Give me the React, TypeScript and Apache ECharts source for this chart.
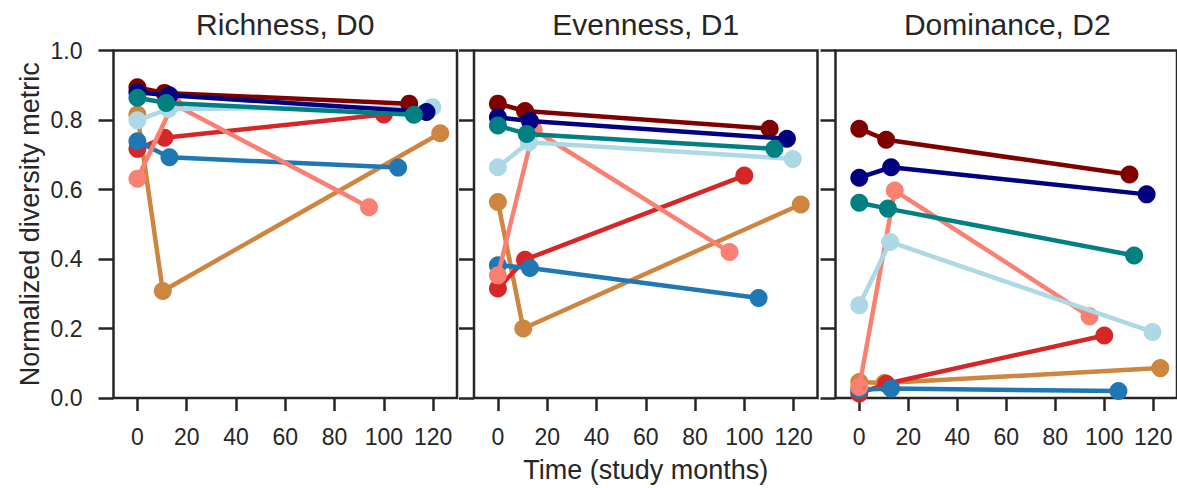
import React, { useEffect, useRef } from "react";
import * as echarts from "echarts";

const panelTitles = ["Richness, D0", "Evenness, D1", "Dominance, D2"];
const xTicks = [0, 20, 40, 60, 80, 100, 120];

const seriesNames = ["peru", "red", "blue", "salmon", "lightblue", "darkred", "navy", "teal"];
const seriesColors = ["#cd853f", "#d62728", "#1f77b4", "#fa8072", "#add8e6", "#800000", "#000080", "#008080"];

// study months per series
const timePeru = [0, 10.3, 122.9];
const timeRed = [0, 11, 100];
const timeBlue = [0, 13, 105.8];
const timeSalmon = [0, 14.5, 94];
const timeLightblue = [0, 12.6, 119.7];
const timeDarkred = [0, 11, 110.3];
const timeNavy = [0, 13, 117.3];
const timeTeal = [0, 11.7, 112.2];
const times = [timePeru, timeRed, timeBlue, timeSalmon, timeLightblue, timeDarkred, timeNavy, timeTeal];

// D0 richness
const d0Peru = [0.816, 0.308, 0.762];
const d0Red = [0.717, 0.749, 0.816];
const d0Blue = [0.739, 0.693, 0.663];
const d0Salmon = [0.631, 0.847, 0.549];
const d0Lightblue = [0.799, 0.832, 0.837];
const d0Darkred = [0.894, 0.878, 0.847];
const d0Navy = [0.88, 0.871, 0.823];
const d0Teal = [0.864, 0.849, 0.815];

// D1 evenness
const d1Peru = [0.564, 0.2, 0.557];
const d1Red = [0.315, 0.398, 0.64];
const d1Blue = [0.382, 0.374, 0.288];
const d1Salmon = [0.353, 0.772, 0.42];
const d1Lightblue = [0.664, 0.736, 0.688];
const d1Darkred = [0.847, 0.826, 0.775];
const d1Navy = [0.808, 0.797, 0.746];
const d1Teal = [0.784, 0.76, 0.717];

// D2 dominance
const d2Peru = [0.046, 0.043, 0.086];
const d2Red = [0.013, 0.041, 0.18];
const d2Blue = [0.024, 0.027, 0.02];
const d2Salmon = [0.032, 0.597, 0.235];
const d2Lightblue = [0.267, 0.449, 0.19];
const d2Darkred = [0.775, 0.743, 0.643];
const d2Navy = [0.634, 0.664, 0.586];
const d2Teal = [0.562, 0.545, 0.41];

const panelValues = [
  [d0Peru, d0Red, d0Blue, d0Salmon, d0Lightblue, d0Darkred, d0Navy, d0Teal],
  [d1Peru, d1Red, d1Blue, d1Salmon, d1Lightblue, d1Darkred, d1Navy, d1Teal],
  [d2Peru, d2Red, d2Blue, d2Salmon, d2Lightblue, d2Darkred, d2Navy, d2Teal],
];

const INK = "#262626";
const FONT = "Liberation Sans, Arial, sans-serif";

export default function App() {
  const ref = useRef<HTMLDivElement>(null);
  useEffect(() => {
    if (!ref.current) return;
    const chart = echarts.init(ref.current, null, { renderer: "svg" });
    const lefts = [113.5, 474, 835.5];
    const width = 343.5;
    const top = 50.5;
    const height = 347.5;

    const grids = lefts.map((l) => ({
      left: l,
      top,
      width,
      height,
      show: true,
      borderColor: INK,
      borderWidth: 2.5,
      backgroundColor: "transparent",
      containLabel: false,
    }));

    const xAxes = lefts.map((_, i) => ({
      type: "value",
      gridIndex: i,
      min: -9.7,
      max: 129.7,
      splitLine: { show: false },
      axisLine: { show: false, onZero: false },
      axisTick: {
        show: true,
        inside: false,
        length: 13,
        lineStyle: { color: INK, width: 2.5 },
        customValues: xTicks,
      },
      axisLabel: {
        show: true,
        margin: 27,
        color: INK,
        fontSize: 23,
        fontFamily: FONT,
        customValues: xTicks,
      },
    }));

    const yAxes = lefts.map((_, i) => ({
      type: "value",
      gridIndex: i,
      min: 0,
      max: 1,
      interval: 0.2,
      splitLine: { show: false },
      axisLine: { show: false, onZero: false },
      axisTick: {
        show: true,
        inside: false,
        length: 15,
        lineStyle: { color: INK, width: 2.5 },
      },
      axisLabel: {
        show: i === 0,
        margin: 31,
        color: INK,
        fontSize: 23,
        fontFamily: FONT,
        formatter: (v: number) => v.toFixed(1),
      },
    }));

    const series: any[] = [];
    panelValues.forEach((vals, p) => {
      vals.forEach((arr, s) => {
        series.push({
          type: "line",
          name: seriesNames[s] + p,
          xAxisIndex: p,
          yAxisIndex: p,
          data: arr.map((v, k) => [times[s][k], v]),
          symbol: "circle",
          symbolSize: 18,
          showSymbol: true,
          silent: true,
          clip: false,
          color: seriesColors[s],
          itemStyle: { color: seriesColors[s] },
          lineStyle: { color: seriesColors[s], width: 4.5 },
          emphasis: { disabled: true },
          z: 2 + s * 0.01,
        });
      });
    });

    const graphic: any[] = panelTitles.map((t, i) => ({
      type: "text",
      x: lefts[i] + width / 2,
      y: 24,
      style: {
        text: t,
        fill: INK,
        font: `30px ${FONT}`,
        textAlign: "center",
        textVerticalAlign: "middle",
      },
    }));
    graphic.push({
      type: "text",
      x: lefts[1] + width / 2,
      y: 470,
      style: {
        text: "Time (study months)",
        fill: INK,
        font: `27px ${FONT}`,
        textAlign: "center",
        textVerticalAlign: "middle",
      },
    });
    graphic.push({
      type: "text",
      x: 30,
      y: top + height / 2,
      rotation: Math.PI / 2,
      style: {
        text: "Normalized diversity metric",
        fill: INK,
        font: `27px ${FONT}`,
        textAlign: "center",
        textVerticalAlign: "middle",
      },
    });

    chart.setOption({
      animation: false,
      backgroundColor: "#ffffff",
      grid: grids,
      xAxis: xAxes,
      yAxis: yAxes,
      series,
      graphic,
    });
    return () => chart.dispose();
  }, []);
  return (
    <div
      ref={ref}
      style={{ position: "absolute", left: 0, top: 0, width: 1177, height: 488 }}
    />
  );
}
